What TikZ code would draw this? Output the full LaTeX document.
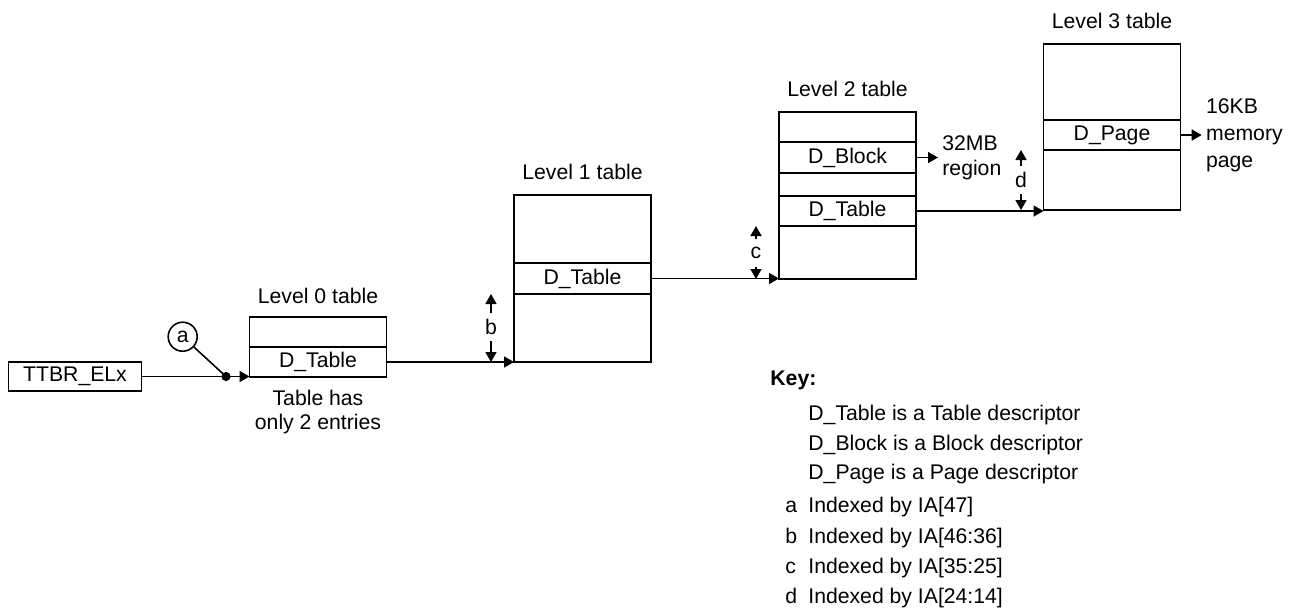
\documentclass[tikz,border=0pt]{standalone}
\usepackage{fontspec}
\setmainfont{Liberation Sans}
\usetikzlibrary{arrows.meta}
\newcommand\myfont{\fontsize{10.6pt}{12.5pt}\selectfont}
\begin{document}
\begin{tikzpicture}[x=0.5pt,y=-0.5pt,
  every node/.style={font=\myfont},
  cell/.style={draw, line width=0.8pt, minimum width=68.5pt, inner sep=0pt, outer sep=0pt},
  conn/.style={line width=0.8pt, -{Triangle[length=5pt,width=5.5pt]}},
  plain/.style={line width=0.8pt},
  lbl/.style={anchor=base, inner sep=0pt},
  keyline/.style={anchor=base west, inner sep=0pt}]
\useasboundingbox (0,0) rectangle (1297,607);
% TTBR
\node[cell, minimum width=66.5pt, minimum height=14.5pt] (ttbr) at (75,376.5) {TTBR\_ELx};
% Level 0
\node[cell, minimum height=15pt] (l0a) at (318,332) {};
\node[cell, minimum height=15pt] (l0b) at (318,362) {D\_Table};
\node[lbl] (t0) at ([yshift=7pt]l0a.north) {Level 0 table};
\node[align=center, inner sep=0pt, font=\fontsize{10.6pt}{11.8pt}\selectfont] (note) at (318,412) {Table has\\only 2 entries};
% Level 1
\node[cell, minimum height=34pt] (l1a) at (582.5,229) {};
\node[cell, minimum height=15.5pt] (l1b) at (582.5,278.5) {D\_Table};
\node[cell, minimum height=34pt] (l1c) at (582.5,328) {};
\node[lbl] (t1) at ([yshift=8pt]l1a.north) {Level 1 table};
% Level 2
\node[cell, minimum height=15pt] (l2a) at (847.5,127) {};
\node[cell, minimum height=15.5pt] (l2b) at (847.5,157.5) {D\_Block};
\node[cell, minimum height=11.5pt] (l2c) at (847.5,184.5) {};
\node[cell, minimum height=15pt] (l2d) at (847.5,211) {D\_Table};
\node[cell, minimum height=26.5pt] (l2e) at (847.5,252.5) {};
\node[lbl] (t2) at ([yshift=8pt]l2a.north) {Level 2 table};
% Level 3
\node[cell, minimum height=38pt] (l3a) at (1112,82) {};
\node[cell, minimum height=15pt] (l3b) at (1112,135) {D\_Page};
\node[cell, minimum height=30pt] (l3c) at (1112,180) {};
\node[lbl] (t3) at ([yshift=8pt]l3a.north) {Level 3 table};
% outputs
\node[anchor=west, align=left, inner sep=2pt] (r32) at (938,157.5) {32MB\\region};
\node[anchor=west, align=left, inner sep=2pt, font=\fontsize{10.6pt}{13.5pt}\selectfont] (p16) at (1201.7,135) {16KB\\memory\\page};
% TTBR connector and index a
\coordinate (dot) at (226,376.5);
\draw[conn] (ttbr.east) -- (ttbr.east -| l0b.west);
\fill (dot) circle (2.3pt);
\node[draw, circle, line width=0.8pt, minimum size=14.5pt, inner sep=0pt] (a) at (182.7,336.7) {a};
\draw[plain] (a) -- (dot);
% table connectors
\draw[conn] (l0b.east) -- (l0b.east -| l1c.west);
\draw[conn] (l1b.east) -- (l1b.east -| l2e.west);
\draw[conn] (l2d.east) -- (l2d.east -| l3c.west);
\draw[conn] (l2b.east) -- (r32.west);
\draw[conn] (l3b.east) -- (p16.west);
% index markers
\node[inner sep=0pt] (bl) at (491,327) {b};
\draw[conn] ([yshift=7pt]bl.center) -- (bl.center |- l1b.south);
\draw[conn] ([yshift=-7pt]bl.center) -- (bl.center |- l1c.south);
\node[inner sep=0pt] (cl) at (756,252.5) {c};
\draw[conn] ([yshift=7pt]cl.center) -- (cl.center |- l2d.south);
\draw[conn] ([yshift=-7pt]cl.center) -- (cl.center |- l2e.south);
\node[inner sep=0pt] (dl) at (1021,180) {d};
\draw[conn] ([yshift=7pt]dl.center) -- (dl.center |- l3b.south);
\draw[conn] ([yshift=-7pt]dl.center) -- (dl.center |- l3c.south);
% key
\node[keyline, font=\myfont\bfseries] (key) at (770,385) {Key:};
\node[keyline] (k1) at (808,420.5) {D\_Table is a Table descriptor};
\node[keyline] (k2) at (808,450) {D\_Block is a Block descriptor};
\node[keyline] (k3) at (808,479) {D\_Page is a Page descriptor};
\node[keyline] (k4) at (785,512.5) {\makebox[11.5pt][l]{a}Indexed by IA[47]};
\node[keyline] (k5) at (785,543) {\makebox[11.5pt][l]{b}Indexed by IA[46:36]};
\node[keyline] (k6) at (785,573.5) {\makebox[11.5pt][l]{c}Indexed by IA[35:25]};
\node[keyline] (k7) at (785,603) {\makebox[11.5pt][l]{d}Indexed by IA[24:14]};
\end{tikzpicture}
\end{document}
